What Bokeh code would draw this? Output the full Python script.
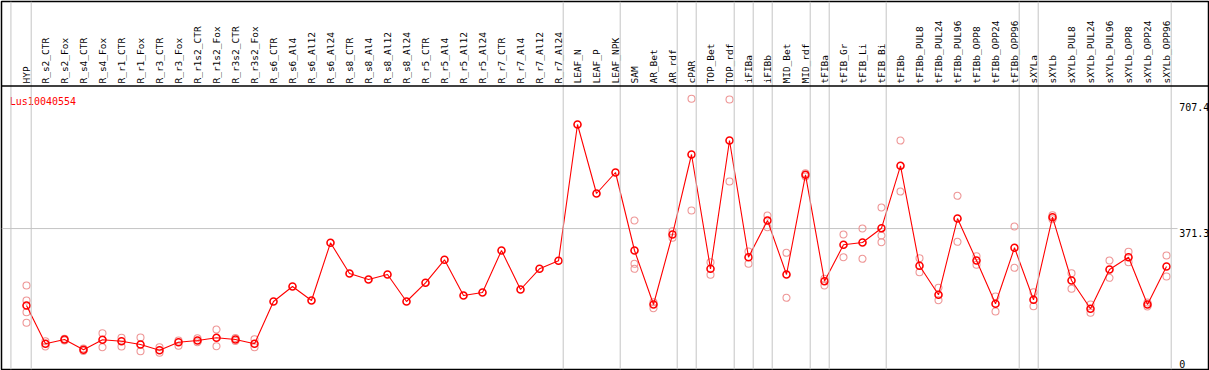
from math import pi
from bokeh.plotting import figure
from bokeh.models import Range1d, Span, ColumnDataSource
from bokeh.core.properties import value
from bokeh.embed import file_html
from bokeh.resources import INLINE

# ---------------- data ----------------
columns = ["HYP", "R_s2_CTR", "R_s2_Fox", "R_s4_CTR", "R_s4_Fox", "R_r1_CTR", "R_r1_Fox",
           "R_r3_CTR", "R_r3_Fox", "R_r1s2_CTR", "R_r1s2_Fox", "R_r3s2_CTR", "R_r3s2_Fox",
           "R_s6_CTR", "R_s6_Al4", "R_s6_Al12", "R_s6_Al24", "R_s8_CTR", "R_s8_Al4", "R_s8_Al12",
           "R_s8_Al24", "R_r5_CTR", "R_r5_Al4", "R_r5_Al12", "R_r5_Al24", "R_r7_CTR", "R_r7_Al4",
           "R_r7_Al12", "R_r7_Al24", "LEAF_N", "LEAF_P", "LEAF_NPK", "SAM", "AR_Bet", "AR_rdf",
           "cPAR", "TOP_Bet", "TOP_rdf", "iFIBa", "iFIBb", "MID_Bet", "MID_rdf", "tFIBa",
           "tFIB_Gr", "tFIB_Li", "tFIB_Bi", "tFIBb", "tFIBb_PUL8", "tFIBb_PUL24", "tFIBb_PUL96",
           "tFIBb_OPP8", "tFIBb_OPP24", "tFIBb_OPP96", "sXYLa", "sXYLb", "sXYLb_PUL8",
           "sXYLb_PUL24", "sXYLb_PUL96", "sXYLb_OPP8", "sXYLb_OPP24", "sXYLb_OPP96"]

means = [166.1, 64.0, 75.5, 48.0, 74.7, 70.9, 62.1, 46.9, 68.3, 72.8, 80.0, 75.5, 64.0,
         176.8, 216.8, 179.5, 333.3, 251.5, 235.5, 248.8, 176.8, 226.7, 288.0, 192.8, 200.8,
         312.8, 208.8, 264.0, 285.3, 648.8, 464.8, 520.8, 312.8, 168.8, 355.5, 568.8, 264.0,
         606.1, 294.9, 392.8, 248.8, 514.7, 230.9, 328.0, 334.1, 372.3, 538.7, 272.0, 194.7,
         398.1, 286.1, 170.7, 320.0, 181.3, 401.6, 232.8, 157.3, 262.1, 294.9, 168.8, 270.1]

replicates = [
    [219.5, 179.5, 148.3, 120.0], [70.9, 56.8], [77.3, 72.8], [51.5, 44.8], [92.3, 54.9],
    [80.0, 56.8], [80.8, 44.3], [54.9, 40.0], [72.8, 58.7], [78.9, 68.3], [102.1, 57.6],
    [79.5, 71.5], [76.3, 54.9],
    [], [], [], [], [], [], [], [], [], [], [], [], [], [], [], [], [], [], [],
    [392.8, 277.3, 264.0], [174.9, 158.9], [364.3, 346.7], [717.3, 419.5], [281.6, 248.0],
    [715.5, 496.8], [310.1, 277.3], [406.1, 374.9], [306.7, 186.7], [518.9, 510.1],
    [237.3, 219.5], [355.5, 294.9], [371.5, 290.7], [427.5, 352.8, 334.9], [606.1, 470.1],
    [292.3, 254.9], [213.3, 180.3], [458.7, 336.0], [297.6, 274.7], [190.1, 150.1],
    [376.8, 266.7], [201.6, 164.3], [406.9, 396.3], [252.3, 210.7], [168.8, 146.7],
    [286.1, 240.0], [309.3, 281.6], [174.1, 163.5], [299.5, 243.5]]

# group separators: the column after which a light grey divider is drawn
separators_after = [0, 28, 31, 34, 35, 37, 38, 39, 41, 42, 45, 52, 53, 60]

tick_values = [707.4, 371.3, 0]
tick_labels = ["707.4", "371.3", "0"]
gene_name = "Lus10040554"

# ---------------- figure ----------------
W, H = 1209, 370
p = figure(width=W, height=H, output_backend="svg", toolbar_location=None,
           x_range=Range1d(-1.316, 62.21), y_range=Range1d(-4.53, 976.8),
           min_border=1, min_border_left=1, min_border_right=1,
           min_border_top=1, min_border_bottom=1)
p.axis.visible = False
p.xgrid.visible = False
p.ygrid.visible = False
p.outline_line_color = "black"
p.outline_line_width = 1.5
p.background_fill_color = "white"
p.border_fill_color = "white"

MONO = value("DejaVu Sans Mono")
GREY = "#c4c4c4"

# vertical group dividers
p.add_layout(Span(location=-0.82, dimension="height", line_color=GREY, line_width=1))
for s in separators_after:
    p.add_layout(Span(location=s + 0.247, dimension="height", line_color=GREY, line_width=1))

# horizontal reference line at middle tick
p.segment(x0=[-1.316], x1=[60.58], y0=[tick_values[1]], y1=[tick_values[1]],
          line_color=GREY, line_width=1)

# header separator
p.add_layout(Span(location=751.5, dimension="width", line_color="black", line_width=1.5))

# column labels (vertical)
xs = list(range(len(columns)))
p.text(x=xs, y=[758.0] * len(columns), text=columns, angle=pi / 2,
       text_align="left", text_baseline="middle",
       text_font=MONO, text_font_size=value("9.5px"), text_color="black")

# replicate points
rx, ry = [], []
for i, reps in enumerate(replicates):
    for r in reps:
        rx.append(i)
        ry.append(r)
p.scatter(rx, ry, marker="circle", size=7, fill_color=None,
          line_color="#ee9696", line_width=1.1)

# mean line and points
src = ColumnDataSource(dict(x=xs, y=means))
p.line("x", "y", source=src, line_color="red", line_width=1.1)
p.scatter("x", "y", source=src, marker="circle", size=7, fill_color=None,
          line_color="red", line_width=1.6)

# gene name
p.text(x=[-0.879], y=[711.0], text=[gene_name], text_align="left",
       text_baseline="alphabetic", text_font=MONO, text_font_size=value("10px"),
       text_color="red")

# value labels at right
p.text(x=[60.67, 60.67], y=tick_values[:2], text=tick_labels[:2], text_align="left",
       text_baseline="top", text_font=MONO, text_font_size=value("10px"),
       text_color="black")
p.text(x=[60.67], y=tick_values[2:], text=tick_labels[2:], text_align="left",
       text_baseline="bottom", text_font=MONO, text_font_size=value("10px"),
       text_color="black")

open("out.html", "w").write(file_html(p, INLINE))
